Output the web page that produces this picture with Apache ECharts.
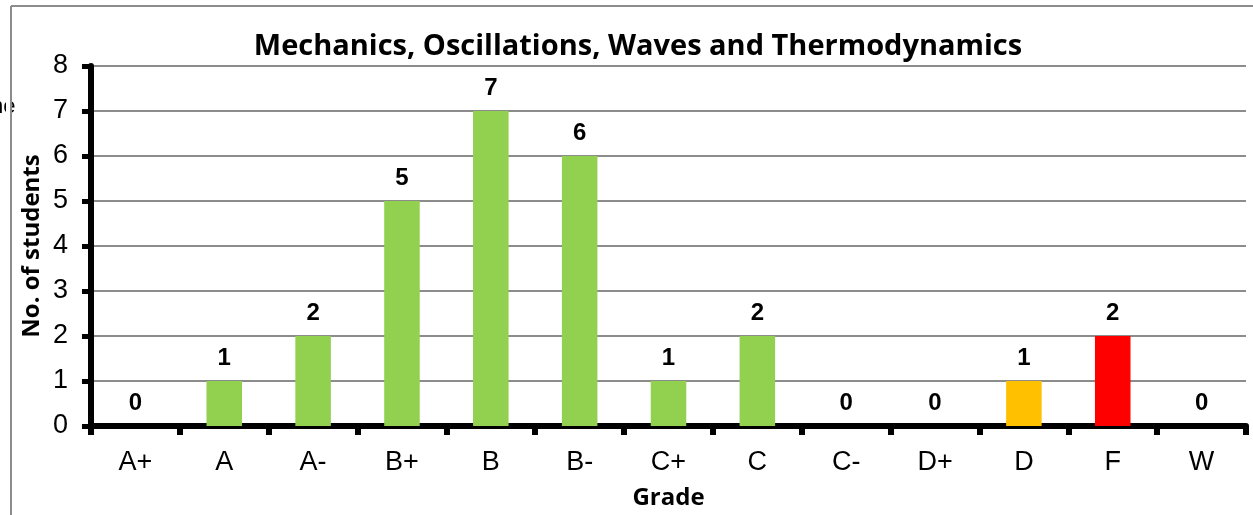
<!DOCTYPE html>
<html>
<head>
<meta charset="utf-8">
<script src="https://cdn.jsdelivr.net/npm/echarts@6/dist/echarts.min.js"></script>
<style>html,body{margin:0;padding:0;background:#fff;}#c{width:1253px;height:515px;}</style>
</head>
<body>
<div id="c"></div>
<script>
const titleText = 'Mechanics, Oscillations, Waves and Thermodynamics';
const grades = ['A+','A','A-','B+','B','B-','C+','C','C-','D+','D','F','W'];
const students = [0,1,2,5,7,6,1,2,0,0,1,2,0];
const barColors = ['#92D050','#92D050','#92D050','#92D050','#92D050','#92D050','#92D050','#92D050','#92D050','#92D050','#FFC000','#FF0000','#92D050'];
const yTicks = [0,1,2,3,4,5,6,7,8];
const xName = 'Grade';
const yName = 'No. of students';

const chart = echarts.init(document.getElementById('c'), null, {renderer:'canvas'});
chart.setOption({
  animation:false,
  backgroundColor:'#fff',
  title:{text:titleText,left:633,top:27,textAlign:'center',
    textStyle:{fontFamily:'Open Sans',fontWeight:'bold',fontSize:29,color:'#000'}},
  graphic:[
    {type:'text',left:-9,top:96,z:1,style:{text:'ne',font:'22px "Liberation Sans"',fill:'#000'}},
    {type:'rect',shape:{x:6,y:88,width:5,height:40},z:2,style:{fill:'#fff'}},
    {type:'line',shape:{x1:11,y1:6,x2:1253,y2:6},z:3,style:{stroke:'#8c8c8c',lineWidth:2}},
    {type:'line',shape:{x1:11,y1:6,x2:11,y2:515},z:3,style:{stroke:'#8c8c8c',lineWidth:2}}
  ],
  grid:{left:91,right:7,top:66,bottom:89,containLabel:false},
  xAxis:{type:'category',data:grades,
    name:xName,nameLocation:'middle',nameGap:60,
    nameTextStyle:{fontFamily:'Open Sans',fontWeight:'bold',fontSize:24,color:'#000'},
    axisLine:{lineStyle:{color:'#000',width:6}},
    axisTick:{show:true,length:9,lineStyle:{color:'#000',width:6}},
    axisLabel:{fontFamily:'Liberation Sans',fontSize:27,color:'#000',margin:23},
    splitLine:{show:false}},
  yAxis:{type:'value',min:yTicks[0],max:yTicks[yTicks.length-1],interval:1,
    name:yName,nameLocation:'middle',nameGap:47,nameRotate:90,nameMoveOverlap:false,
    nameTextStyle:{fontFamily:'Open Sans',fontWeight:'bold',fontSize:24,color:'#000'},
    axisLine:{show:true,lineStyle:{color:'#000',width:6}},
    axisTick:{show:true,length:9,lineStyle:{color:'#000',width:5}},
    axisLabel:{fontFamily:'Liberation Sans',fontSize:27,color:'#000',margin:23},
    splitLine:{show:true,lineStyle:{color:'#8c8c8c',width:2}}},
  series:[{type:'bar',data:students.map((v,i)=>({value:v,itemStyle:{color:barColors[i]}})),
    barWidth:'40%',
    label:{show:true,position:'top',distance:11,fontFamily:'Liberation Sans',fontWeight:'bold',fontSize:24,color:'#000'}}]
});
</script>
</body>
</html>
